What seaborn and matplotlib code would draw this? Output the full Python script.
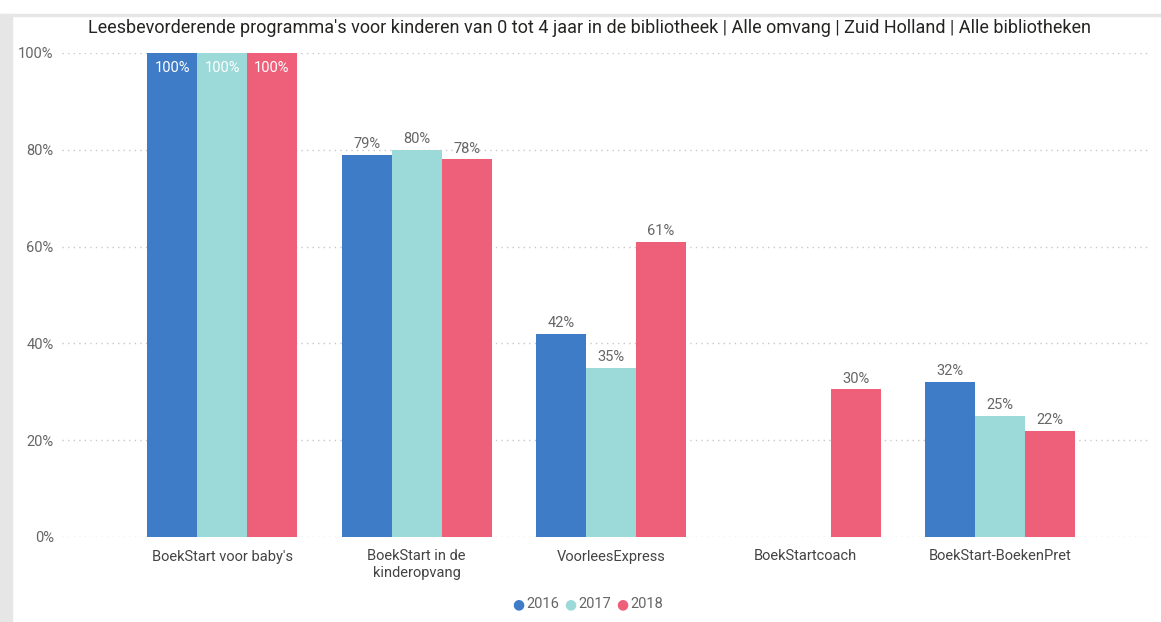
import pandas as pd
import numpy as np
import matplotlib
matplotlib.use("Agg")
import matplotlib.pyplot as plt
import seaborn as sns
from matplotlib.patches import Rectangle

# data
programmas = ["BoekStart voor baby's", "BoekStart in de\nkinderopvang", "VoorleesExpress",
              "BoekStartcoach", "BoekStart-BoekenPret"]
jaren = ["2016", "2017", "2018"]
waarden_2016 = [100, 79, 42, np.nan, 32]
waarden_2017 = [100, 80, 35, np.nan, 25]
waarden_2018 = [100, 78, 61, 30.5, 22]
kleuren = ["#3F7CC8", "#9BDAD9", "#EE5F7A"]

df = pd.DataFrame({
    "programma": programmas * 3,
    "jaar": [j for j in jaren for _ in programmas],
    "waarde": waarden_2016 + waarden_2017 + waarden_2018,
})

sns.set_theme(style="white")
plt.rcParams["font.family"] = ["Roboto", "DejaVu Sans"]

grijs = "#666666"
fig = plt.figure(figsize=(11.61, 6.22), dpi=100)
ax = fig.add_axes([62 / 1161, 1 - 537 / 622, (1150 - 62) / 1161, (537 - 53) / 622])

sns.barplot(data=df, x="programma", y="waarde", hue="jaar", palette=kleuren,
            width=0.77, order=programmas, hue_order=jaren, ax=ax,
            errorbar=None, saturation=1, legend=False, linewidth=0)

ax.set_ylim(0, 100)
ax.set_xlim(-0.823, 4.77)
ax.set_yticks([0, 20, 40, 60, 80, 100])
ax.set_yticklabels([f"{v}%" for v in [0, 20, 40, 60, 80, 100]])
ax.yaxis.grid(True, linestyle=(0, (1, 3)), color="#c8c8c8", linewidth=1)
ax.set_axisbelow(True)
for s in ax.spines.values():
    s.set_visible(False)
ax.tick_params(axis="y", length=0, pad=6, labelsize=10.5, labelcolor=grijs)
ax.tick_params(axis="x", length=0, pad=9, labelsize=10.5, labelcolor="#444444")
ax.set_xlabel("")
ax.set_ylabel("")

# data labels
for cont in ax.containers:
    for rect in cont:
        h = rect.get_height()
        if np.isnan(h) or h == 0:
            continue
        x = rect.get_x() + rect.get_width() / 2
        if h >= 95:
            ax.text(x, h - 3.2, f"{h:.0f}%", ha="center", va="center",
                    color="white", fontsize=10.5)
        else:
            ax.text(x, h + 2.2, f"{h:.0f}%", ha="center", va="center",
                    color=grijs, fontsize=10.5)

fig.text(590 / 1161, 1 - 28 / 622,
         "Leesbevorderende programma's voor kinderen van 0 tot 4 jaar in de bibliotheek"
         " | Alle omvang | Zuid Holland | Alle bibliotheken",
         ha="center", va="center", fontsize=13, color="#252423")

# legend
x0 = 512
for jaar, kleur in zip(jaren, kleuren):
    fig.text(x0 / 1161, 1 - 604 / 622, "\u25CF", color=kleur, fontsize=10,
             ha="left", va="center")
    fig.text((x0 + 14) / 1161, 1 - 604 / 622, jaar, color=grijs, fontsize=10.5,
             ha="left", va="center")
    x0 += 52

# screenshot frame
fig.patches.append(Rectangle((0, 0), 12 / 1161, 1 - 14 / 622, transform=fig.transFigure,
                             color="#e6e6e6", zorder=-1))
fig.patches.append(Rectangle((0, 1 - 16 / 622), 1, 2 / 622, transform=fig.transFigure,
                             color="#e6e6e6", zorder=-1))

fig.savefig("out.png", dpi=100)
